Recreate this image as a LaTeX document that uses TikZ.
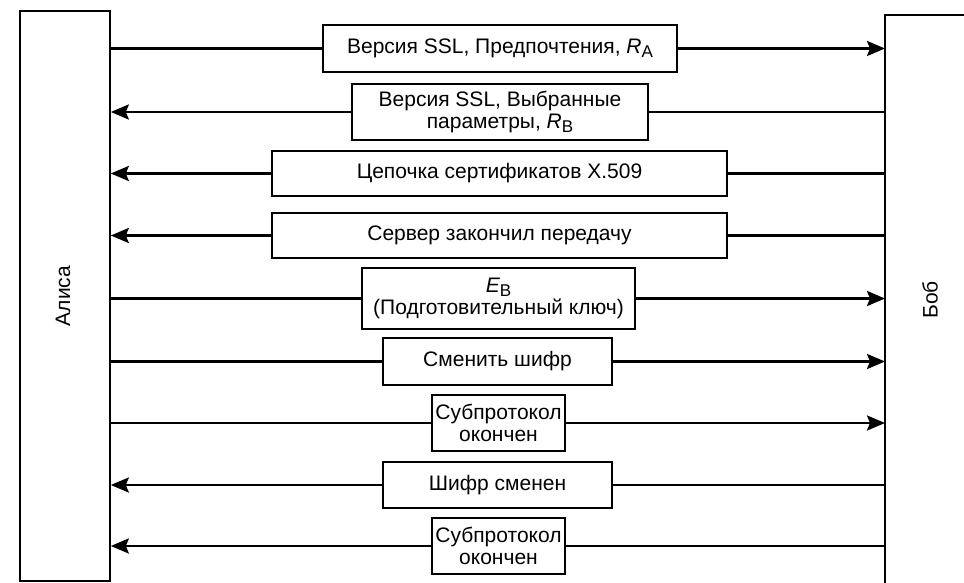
\documentclass[tikz,border=0pt]{standalone}
\usepackage{fontspec}
\setmainfont{Liberation Sans}
\usetikzlibrary{arrows.meta}
\newcommand{\sub}[1]{\raisebox{-0.35ex}{\fontsize{17}{17}\selectfont #1}}
\begin{document}
\begin{tikzpicture}[x=1pt,y=-1pt,
  msg/.style={draw,line width=1.6pt,inner sep=0pt,align=center,
    font=\fontsize{21}{22.5}\selectfont},
  conn/.style={line width=2.6pt},
  arr/.style={conn,-{Stealth[length=18pt,width=15pt,inset=3pt]}},
  party/.style={draw,line width=1.6pt,inner sep=0pt},
  lbl/.style={font=\fontsize{21}{22}\selectfont,rotate=90}]
\useasboundingbox (0,0) rectangle (964,583);
\fill[white] (0,0) rectangle (964,583);
% parties
\node[party,minimum width=90pt,minimum height=570pt] (alice) at (65,296) {};
\coordinate (bobtl) at (885,15);
\coordinate (bobbl) at (885,583);
\draw[line width=1.6pt] (bobbl) -- (bobtl) -- (964,15);
\node[lbl] (alicelbl) at (63,296) {Алиса};
\node[lbl] (boblbl) at (930,300) {Боб};
% messages
\node[msg,minimum width=354pt,minimum height=47pt] (m1) at (500,48.5) {Версия SSL, Предпочтения, {\itshape R}\sub{A}};
\node[msg,minimum width=296pt,minimum height=56pt] (m2) at (500,112) {Версия SSL, Выбранные\\параметры, {\itshape R}\sub{B}};
\node[msg,minimum width=455pt,minimum height=45pt] (m3) at (499.5,173.5) {Цепочка сертификатов X.509};
\node[msg,minimum width=455pt,minimum height=45pt] (m4) at (499.5,235.5) {Сервер закончил передачу};
\node[msg,minimum width=273pt,minimum height=61pt] (m5) at (498.5,298.5) {{\itshape E}\sub{B}\\(Подготовительный ключ)};
\node[msg,minimum width=229pt,minimum height=47pt] (m6) at (497.5,361.5) {Сменить шифр};
\node[msg,minimum width=133pt,minimum height=56pt] (m7) at (498.5,423) {Субпротокол\\окончен};
\node[msg,minimum width=229pt,minimum height=46pt] (m8) at (497.5,485) {Шифр сменен};
\node[msg,minimum width=133pt,minimum height=56pt] (m9) at (498.5,546) {Субпротокол\\окончен};
% Alice -> Bob
\foreach \m in {m1,m5,m6,m7}{
  \draw[conn] (alice.east |- \m.west) -- (\m.west);
  \draw[arr] (\m.east) -- (\m.east -| bobtl);
}
% Bob -> Alice
\foreach \m in {m2,m3,m4,m8,m9}{
  \draw[conn] (\m.east -| bobtl) -- (\m.east);
  \draw[arr] (\m.west) -- (\m.west -| alice.east);
}
\end{tikzpicture}
\end{document}
